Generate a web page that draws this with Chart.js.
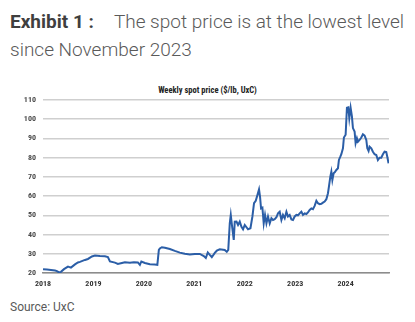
<!DOCTYPE html>
<html>
<head>
<meta charset="utf-8">
<script src="https://cdn.jsdelivr.net/npm/chart.js@4.4.1/dist/chart.umd.min.js"></script>
<style>
  html, body { margin: 0; padding: 0; background: #ffffff; }
  body { width: 415px; height: 322px; position: relative; overflow: hidden; font-family: Roboto, "Noto Sans", sans-serif; }
  #head { position: absolute; left: 10px; top: 8px; width: 405px; font-size: 19px; line-height: 28px; color: #5a5a5a; font-weight: 300; white-space: nowrap; }
  #head b { color: #3f3f3f; font-weight: 700; margin-right: 20px; }
  #ctitle { position: absolute; left: 0; width: 415px; top: 85px; text-align: center;
            font-family: "Liberation Sans Narrow", "Roboto Condensed", Roboto, sans-serif; font-weight: 700; font-size: 8.5px; color: #222; }
  #wrap { position: absolute; left: 0; top: 80px; width: 415px; height: 215px; }
  #src { position: absolute; left: 10px; top: 300px; font-size: 12px; color: #595959; }
</style>
</head>
<body>
<div id="head"><b>Exhibit 1 :</b>The spot price is at the lowest level<br>since November 2023</div>
<div id="ctitle">Weekly spot price ($/lb, UxC)</div>
<div id="wrap"><canvas id="c"></canvas></div>
<div id="src">Source: UxC</div>
<script>
// Decimal-year dates of the traced points
const dates = [
  2018.000, 2018.079, 2018.158, 2018.238, 2018.277, 2018.317, 2018.356, 2018.416, 2018.495, 2018.554,
  2018.634, 2018.693, 2018.733, 2018.832, 2018.891, 2018.970, 2019.030, 2019.129, 2019.228, 2019.287,
  2019.327, 2019.426, 2019.485, 2019.564, 2019.624, 2019.723, 2019.802, 2019.881, 2019.921, 2019.950,
  2020.020, 2020.119, 2020.218, 2020.267, 2020.297, 2020.317, 2020.356, 2020.416, 2020.515, 2020.614,
  2020.713, 2020.812, 2020.911, 2021.010, 2021.109, 2021.188, 2021.228, 2021.267, 2021.307, 2021.347,
  2021.406, 2021.446, 2021.505, 2021.604, 2021.644, 2021.673, 2021.703, 2021.723, 2021.749, 2021.782,
  2021.802, 2021.836, 2021.867, 2021.901, 2021.935, 2021.966, 2022.000, 2022.065, 2022.113, 2022.152,
  2022.184, 2022.218, 2022.251, 2022.283, 2022.303, 2022.323, 2022.350, 2022.376, 2022.402, 2022.430,
  2022.461, 2022.495, 2022.529, 2022.560, 2022.594, 2022.628, 2022.659, 2022.693, 2022.727, 2022.758,
  2022.792, 2022.826, 2022.857, 2022.891, 2022.925, 2022.956, 2022.990, 2023.024, 2023.055, 2023.089,
  2023.123, 2023.154, 2023.188, 2023.222, 2023.253, 2023.287, 2023.321, 2023.352, 2023.386, 2023.420,
  2023.451, 2023.485, 2023.519, 2023.550, 2023.584, 2023.618, 2023.650, 2023.669, 2023.697, 2023.717,
  2023.737, 2023.762, 2023.788, 2023.816, 2023.848, 2023.867, 2023.895, 2023.915, 2023.947, 2023.966,
  2024.000, 2024.026, 2024.053, 2024.073, 2024.099, 2024.125, 2024.145, 2024.178, 2024.198, 2024.224,
  2024.244, 2024.277, 2024.311, 2024.343, 2024.376, 2024.410, 2024.430, 2024.455, 2024.475, 2024.509,
  2024.541, 2024.574, 2024.608, 2024.640, 2024.673, 2024.707, 2024.739, 2024.772, 2024.806, 2024.826,
  2024.851
];
// Spot price, $/lb
const prices = [
  22.0, 21.8, 21.6, 21.3, 21.0, 20.3, 20.6, 22.0, 23.3, 22.8,
  24.5, 25.5, 25.8, 26.8, 27.3, 28.6, 29.1, 28.8, 28.7, 28.3,
  26.0, 25.4, 24.7, 25.2, 25.6, 25.3, 25.6, 25.5, 24.2, 26.0,
  25.2, 24.6, 24.4, 24.2, 32.0, 32.8, 33.4, 33.1, 32.5, 31.5,
  30.6, 30.0, 29.6, 29.9, 29.9, 28.8, 27.8, 30.7, 29.4, 28.2,
  30.5, 31.6, 32.3, 32.0, 31.0, 32.0, 45.8, 50.2, 44.3, 37.2,
  46.7, 46.8, 45.0, 46.7, 44.0, 42.7, 45.0, 42.7, 43.3, 49.4,
  56.3, 57.6, 60.5, 63.5, 59.7, 53.6, 54.0, 45.8, 50.2, 45.8,
  49.4, 45.8, 48.5, 47.6, 48.0, 49.0, 51.0, 51.9, 47.6, 50.2,
  48.5, 51.9, 49.4, 50.2, 47.9, 47.6, 49.4, 50.2, 50.0, 51.0,
  51.9, 50.2, 51.0, 50.7, 51.5, 52.8, 53.6, 53.2, 54.9, 57.6,
  56.3, 55.8, 56.0, 56.6, 57.2, 58.4, 61.5, 64.9, 70.1, 72.7,
  68.4, 71.9, 72.5, 73.6, 74.5, 78.8, 80.5, 81.8, 84.9, 90.5,
  91.9, 106.0, 106.2, 100.6, 106.0, 101.5, 95.4, 93.6, 87.5, 90.1,
  88.3, 89.2, 90.5, 92.2, 91.5, 89.2, 84.9, 83.5, 85.7, 84.9,
  83.1, 81.8, 81.4, 78.8, 80.0, 80.0, 81.8, 83.1, 82.9, 80.5,
  77.1
];
const yearTicks = [2018, 2019, 2020, 2021, 2022, 2023, 2024];
const priceTicks = [20, 30, 40, 50, 60, 70, 80, 90, 100, 110];

const points = dates.map((d, i) => ({ x: d, y: prices[i] }));
const tickFont = { family: '"Liberation Sans Narrow", "Roboto Condensed", Roboto, sans-serif', weight: 'bold', size: 8 };

new Chart(document.getElementById('c'), {
  type: 'line',
  data: { datasets: [{
    data: points,
    borderColor: '#2b5ea7',
    borderWidth: 2,
    pointRadius: 0,
    tension: 0,
    fill: false
  }]},
  options: {
    responsive: true,
    maintainAspectRatio: false,
    animation: false,
    events: [],
    layout: { padding: { left: 0, right: 26, top: 20, bottom: 0 } },
    plugins: { legend: { display: false }, tooltip: { enabled: false }, title: { display: false } },
    scales: {
      x: {
        type: 'linear',
        min: 2018,
        max: 2024.86,
        afterBuildTicks: (s) => { s.ticks = yearTicks.map(v => ({ value: v })); },
        afterFit: (s) => { s.height = 22; },
        grid: { display: false, drawTicks: false },
        border: { display: true, color: '#8c8c8c', width: 1.5 },
        ticks: { padding: 6, color: '#333333', font: tickFont, maxRotation: 0, autoSkip: false,
                 callback: (v) => String(v) }
      },
      y: {
        type: 'linear',
        min: 20,
        max: 110,
        afterBuildTicks: (s) => { s.ticks = priceTicks.map(v => ({ value: v })); },
        afterFit: (s) => { s.width = 43; },
        grid: { color: '#cfcfcf', lineWidth: 1.5, drawTicks: false },
        border: { display: false },
        ticks: { padding: 7, color: '#4a4a4a', font: tickFont }
      }
    }
  }
});
</script>
</body>
</html>
